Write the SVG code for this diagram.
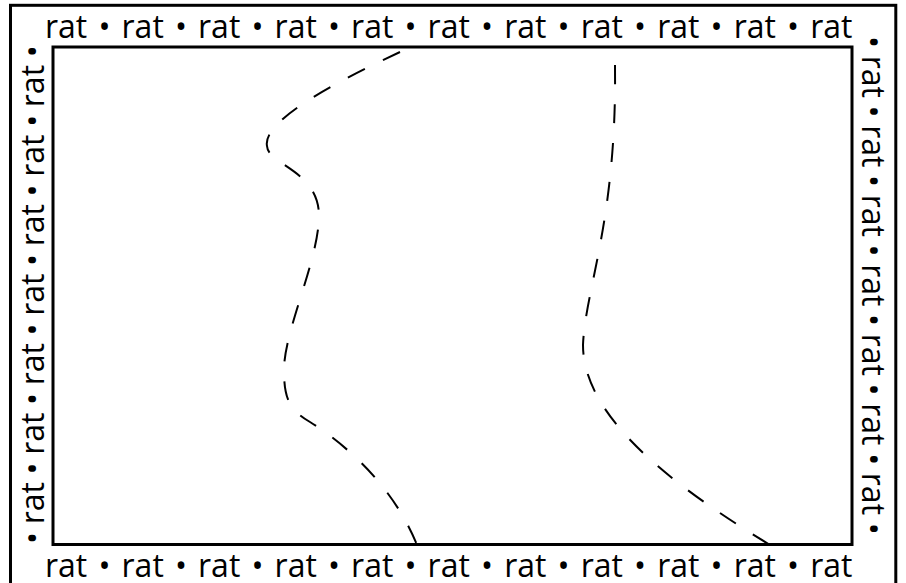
<svg xmlns="http://www.w3.org/2000/svg" width="906" height="583" viewBox="0 0 906 583">
<style>
.frame{fill:none;stroke:#000;stroke-width:3}
.lbl{font-family:"Open Sans",sans-serif;font-size:32px;fill:#000}
.h{word-spacing:2.8px}
.v{word-spacing:-0.7px}
.curve{fill:none;stroke:#000;stroke-width:2;stroke-dasharray:19 20}
</style>
<rect fill="#fff" x="0" y="0" width="906" height="583"/>
<g id="outer-frame"><rect class="frame" x="10.5" y="5.3" width="885.3" height="590"/></g>
<g id="inner-frame"><rect class="frame" x="53" y="47" width="799" height="497.5"/></g>
<g id="labels">
<text id="top-label" class="lbl h" x="45" y="37.5">rat • rat • rat • rat • rat • rat • rat • rat • rat • rat • rat</text>
<text id="bottom-label" class="lbl h" x="45" y="577">rat • rat • rat • rat • rat • rat • rat • rat • rat • rat • rat</text>
<text id="left-label" class="lbl v" transform="translate(43.5,544) rotate(-90)" x="0" y="0">• rat • rat • rat • rat • rat • rat • rat •</text>
<text id="right-label" class="lbl v" transform="translate(862,36) rotate(90)" x="0" y="0">• rat • rat • rat • rat • rat • rat • rat •</text>
</g>
<g id="connectors">
<path class="curve" d="M400,52 C340,80 262,120 267,146 C268,165 318,170 319,215 C319,260 284,330 284,370 C284,400 290,410 310,422 C350,447 395,490 417,545"/>
<path class="curve" d="M615,65 C617,220 585,290 583,345 C583,420 680,490 770,545"/>
</g>
</svg>
